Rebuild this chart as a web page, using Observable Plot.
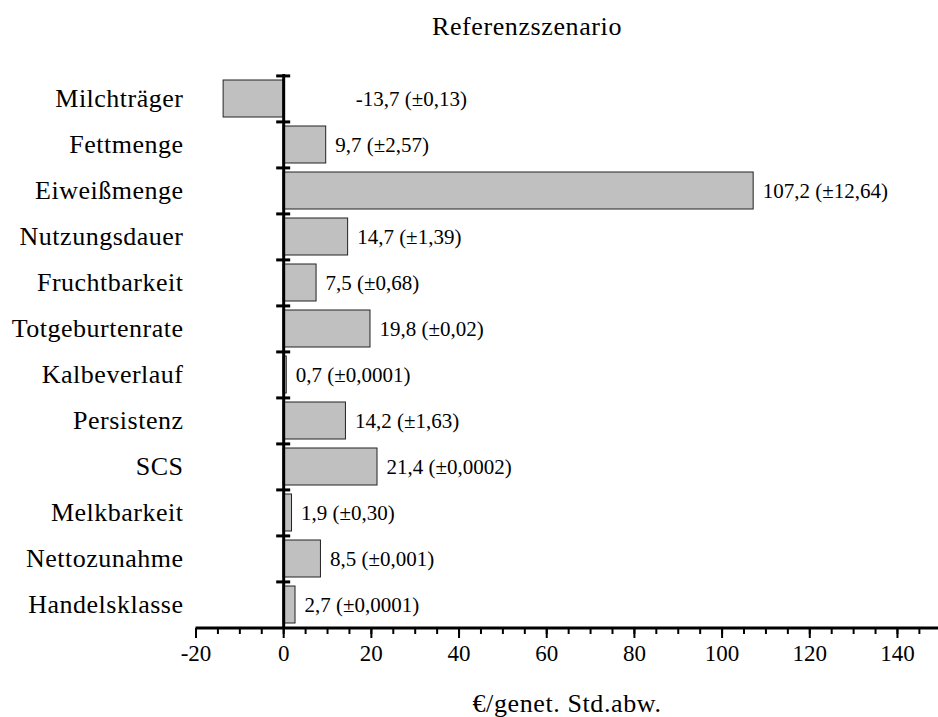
<!DOCTYPE html>
<html>
<head>
<meta charset="utf-8">
<script src="https://cdn.jsdelivr.net/npm/d3@7"></script>
<script src="https://cdn.jsdelivr.net/npm/@observablehq/plot@0.6"></script>
<style>
  html, body { margin: 0; padding: 0; background: #fff; }
  #chart svg { display: block; }
  #chart svg text { font-family: 'Liberation Serif', 'Times New Roman', serif; }
  #chart svg g[aria-label="y-axis tick label"] text { letter-spacing: 0.5px; }
  #chart svg g.title text { letter-spacing: 0.6px; }
</style>
</head>
<body>
<div id="chart"></div>
<script>
const title = "Referenzszenario";
const xLabel = "€/genet. Std.abw.";
const categories = ["Milchträger","Fettmenge","Eiweißmenge","Nutzungsdauer","Fruchtbarkeit","Totgeburtenrate","Kalbeverlauf","Persistenz","SCS","Melkbarkeit","Nettozunahme","Handelsklasse"];
const values = [-13.7, 9.7, 107.2, 14.7, 7.5, 19.8, 0.7, 14.2, 21.4, 1.9, 8.5, 2.7];
const sds = ["0,13","2,57","12,64","1,39","0,68","0,02","0,0001","1,63","0,0002","0,30","0,001","0,0001"];
const majorTicks = [-20, 0, 20, 40, 60, 80, 100, 120, 140];
const minorStep = 5;
const xDomain = [-20, 150];

const data = categories.map((c, i) => ({
  cat: c,
  value: values[i],
  label: values[i].toFixed(1).replace(".", ",") + " (±" + sds[i] + ")"
}));

const W = 938, H = 717, mTop = 74, mBottom = 89, mLeft = 195;
const step = (H - mTop - mBottom) / categories.length;
const minorTicks = d3.range(xDomain[0], xDomain[1] + 0.001, minorStep);
const font = "'Liberation Serif', 'Times New Roman', serif";

const chart = Plot.plot({
  width: W,
  height: H,
  marginTop: mTop,
  marginBottom: mBottom,
  marginLeft: mLeft,
  marginRight: 0,
  style: { fontFamily: font, color: "#000", background: "#fff" },
  x: { domain: xDomain, range: [195.5, 940.8] },
  y: { domain: categories, paddingInner: 0.2, paddingOuter: 0.1 },
  marks: [
    Plot.barX(data, { x1: 0, x2: "value", y: "cat", fill: "#c0c0c0", stroke: "#222", strokeWidth: 1 }),
    Plot.ruleX([0], { stroke: "#000", strokeWidth: 3 }),
    Plot.ruleY(categories, { y: d => d, x1: 0, x2: 0, insetLeft: -7, insetRight: -7, dy: -step / 2, stroke: "#000", strokeWidth: 3 }),
    Plot.ruleY([categories[categories.length - 1]], { y: d => d, x1: xDomain[0], x2: xDomain[1], dy: step / 2, stroke: "#000", strokeWidth: 3 }),
    Plot.axisX({ ticks: minorTicks, tickSize: 6, strokeWidth: 2, text: null, label: null }),
    Plot.axisX({ ticks: majorTicks, tickSize: 10, strokeWidth: 2, tickPadding: 6, fontSize: 23, fontFamily: font, label: null, tickFormat: d => String(d) }),
    Plot.axisY({ tickSize: 0, tickPadding: 12, fontSize: 26, fontFamily: font, label: null }),
    Plot.text(data.filter(d => d.value >= 0), {
      x: "value", y: "cat", text: "label",
      dx: 9, textAnchor: "start", lineAnchor: "middle", fontSize: 21, fontFamily: font, fill: "#000"
    }),
    Plot.text(data.filter(d => d.value < 0), {
      x: 0, y: "cat", text: "label",
      dx: 72, textAnchor: "start", lineAnchor: "middle", fontSize: 21, fontFamily: font, fill: "#000"
    }),
    Plot.text([title], { frameAnchor: "top", lineAnchor: "middle", dy: -48, dx: -40, fontSize: 26, fontFamily: font, fill: "#000", className: "title" }),
    Plot.text([xLabel], { frameAnchor: "bottom", lineAnchor: "middle", dy: 75, dx: 0, fontSize: 26, fontFamily: font, fill: "#000", className: "title" })
  ]
});
document.getElementById("chart").appendChild(chart);
</script>
</body>
</html>
